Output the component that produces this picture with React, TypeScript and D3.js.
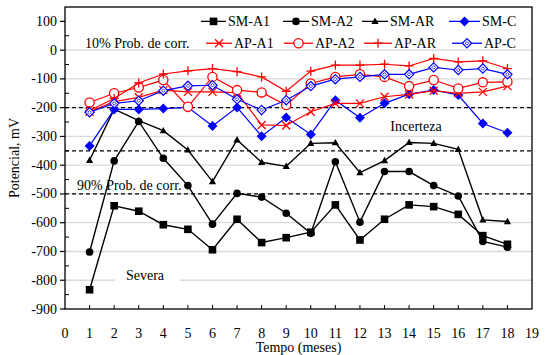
import React from "react";
import * as d3 from "d3";

const months = d3.range(1, 19);
const smA1 = [-833, -541, -560, -607, -623, -694, -588, -669, -652, -633, -538, -660, -588, -538, -544, -571, -645, -675];
const smA2 = [-702, -385, -248, -376, -471, -605, -498, -511, -567, -637, -388, -598, -422, -422, -471, -507, -665, -685];
const smAR = [-383, -205, -245, -280, -347, -457, -312, -390, -404, -324, -322, -426, -384, -321, -324, -345, -590, -596];
const smC = [-333, -206, -206, -203, -199, -264, -199, -299, -234, -293, -174, -235, -185, -153, -139, -156, -255, -287];
const apA1 = [-214, -179, -164, -139, -145, -145, -148, -260, -262, -214, -185, -185, -162, -154, -141, -150, -145, -125];
const apA2 = [-182, -150, -130, -104, -197, -93, -139, -147, -191, -116, -93, -84, -93, -125, -104, -133, -112, -110];
const apAR = [-210, -168, -114, -83, -72, -64, -75, -93, -143, -73, -52, -52, -49, -55, -29, -41, -37, -64];
const apC = [-216, -185, -176, -141, -124, -122, -171, -208, -174, -125, -101, -93, -84, -84, -60, -69, -64, -84];

const yTicks = [100, 0, -100, -200, -300, -400, -500, -600, -700, -800, -900];
const xTicks = d3.range(0, 20);
const thresholds = [-200, -350, -500];

type Shape = "square" | "circle" | "triangle" | "diamond" | "x" | "ocircle" | "plus" | "odiamond";

const seriesList: { name: string; values: number[]; color: string; shape: Shape }[] = [
  { name: "SM-A1", values: smA1, color: "#000000", shape: "square" },
  { name: "SM-A2", values: smA2, color: "#000000", shape: "circle" },
  { name: "SM-AR", values: smAR, color: "#000000", shape: "triangle" },
  { name: "SM-C", values: smC, color: "#0000ff", shape: "diamond" },
  { name: "AP-A1", values: apA1, color: "#ff0000", shape: "x" },
  { name: "AP-A2", values: apA2, color: "#ff0000", shape: "ocircle" },
  { name: "AP-AR", values: apAR, color: "#ff0000", shape: "plus" },
  { name: "AP-C", values: apC, color: "#0000ff", shape: "odiamond" },
];

const W = 545;
const H = 355;
const M = { left: 65, right: 532, top: 7, bottom: 309 };
const FONT = "'Liberation Serif', 'Times New Roman', serif";

function Marker({ shape, x, y, color }: { shape: Shape; x: number; y: number; color: string }) {
  switch (shape) {
    case "square":
      return <rect x={x - 3.8} y={y - 3.8} width={7.6} height={7.6} fill={color} />;
    case "circle":
      return <circle cx={x} cy={y} r={3.8} fill={color} />;
    case "triangle":
      return <path d={`M${x},${y - 3.8}L${x + 3.6},${y + 2.6}L${x - 3.6},${y + 2.6}Z`} fill={color} />;
    case "diamond":
      return <path d={`M${x},${y - 5}L${x + 5},${y}L${x},${y + 5}L${x - 5},${y}Z`} fill={color} />;
    case "x":
      return (
        <path d={`M${x - 4},${y - 4}L${x + 4},${y + 4}M${x - 4},${y + 4}L${x + 4},${y - 4}`} stroke={color} strokeWidth={1.3} fill="none" />
      );
    case "ocircle":
      return <circle cx={x} cy={y} r={4.6} fill="white" stroke={color} strokeWidth={1.3} />;
    case "plus":
      return <path d={`M${x - 4.5},${y}L${x + 4.5},${y}M${x},${y - 4.5}L${x},${y + 4.5}`} stroke={color} strokeWidth={1.3} fill="none" />;
    case "odiamond":
      return (
        <g>
          <path d={`M${x},${y - 4.6}L${x + 4.6},${y}L${x},${y + 4.6}L${x - 4.6},${y}Z`} fill="white" stroke={color} strokeWidth={1.2} />
          <path d={`M${x},${y - 1.8}L${x + 1.8},${y}L${x},${y + 1.8}L${x - 1.8},${y}Z`} fill="none" stroke={color} strokeWidth={0.8} />
        </g>
      );
  }
}

const legendRow1 = [
  { idx: 0, x0: 201, x1: 226 },
  { idx: 1, x0: 283, x1: 309 },
  { idx: 2, x0: 362, x1: 388 },
  { idx: 3, x0: 449, x1: 480 },
];
const legendRow2 = [
  { idx: 4, x0: 206, x1: 232 },
  { idx: 5, x0: 284, x1: 313 },
  { idx: 6, x0: 364, x1: 392 },
  { idx: 7, x0: 452, x1: 482 },
];

export default function App() {
  const x = d3.scaleLinear().domain([0, 19]).range([M.left, M.right]);
  const y = d3.scaleLinear().domain([-900, 150]).range([M.bottom, M.top]);
  const line = d3
    .line<number>()
    .x((_, i) => x(months[i]))
    .y((v) => y(v));
  const minorTicks = d3.range(-850, 150, 100);

  return (
    <svg width={W} height={H} style={{ position: "absolute", left: 0, top: 0, background: "white" }} fontFamily={FONT}>
      <rect x={0} y={0} width={W} height={H} fill="white" />
      {/* gridlines */}
      {yTicks
        .filter((t) => t !== -900)
        .map((t) => (
          <line key={"g" + t} x1={M.left} x2={M.right} y1={y(t)} y2={y(t)} stroke="#d9d9d9" strokeWidth={1.3} />
        ))}
      {/* white bg behind Severa */}
      <rect x={115} y={y(-800) - 3} width={65} height={6} fill="white" />
      {/* legend background */}
      <rect x={M.left + 1} y={M.top + 1} width={M.right - M.left - 2} height={25} fill="white" />
      {/* threshold dashed lines */}
      {thresholds.map((t) => (
        <line key={"d" + t} x1={M.left} x2={M.right} y1={y(t)} y2={y(t)} stroke="#000" strokeWidth={1.3} strokeDasharray="4,3" />
      ))}
      {/* texts in plot */}
      <text x={416} y={y(-265)} fontSize={14} textAnchor="middle" dominantBaseline="central">Incerteza</text>
      <text x={77} y={y(-470)} fontSize={14} dominantBaseline="central">90% Prob. de corr.</text>
      <text x={145} y={y(-785)} fontSize={14} textAnchor="middle" dominantBaseline="central">Severa</text>
      <text x={85} y={y(24)} fontSize={14} dominantBaseline="central">10% Prob. de corr.</text>
      {/* series */}
      {seriesList.map((s) => (
        <g key={s.name}>
          <path d={line(s.values) || ""} fill="none" stroke={s.color} strokeWidth={s.color === "#000000" ? 1.4 : 1.2} />
          {s.values.map((v, i) => (
            <Marker key={i} shape={s.shape} x={x(months[i])} y={y(v)} color={s.color} />
          ))}
        </g>
      ))}
      {/* legend */}
      {[legendRow1, legendRow2].map((row, r) =>
        row.map((it) => {
          const s = seriesList[it.idx];
          const ly = r === 0 ? y(100) : y(24);
          const mx = (it.x0 + it.x1) / 2;
          return (
            <g key={s.name}>
              <line x1={it.x0} x2={it.x1} y1={ly} y2={ly} stroke={s.color} strokeWidth={1.3} />
              <Marker shape={s.shape} x={mx} y={ly} color={s.color} />
              <text x={it.x1 + 2} y={ly} fontSize={14} dominantBaseline="central">{s.name}</text>
            </g>
          );
        })
      )}
      {/* frame */}
      <rect x={M.left} y={M.top} width={M.right - M.left} height={M.bottom - M.top} fill="none" stroke="#000" strokeWidth={1.3} />
      {/* y ticks */}
      {yTicks.map((t) => (
        <g key={"yt" + t}>
          <line x1={M.left - 5} x2={M.left} y1={y(t)} y2={y(t)} stroke="#000" strokeWidth={1.2} />
          <text x={M.left - 8} y={y(t)} fontSize={14} textAnchor="end" dominantBaseline="central">{t}</text>
        </g>
      ))}
      {minorTicks.map((t) => (
        <line key={"ym" + t} x1={M.left} x2={M.left + 4} y1={y(t)} y2={y(t)} stroke="#000" strokeWidth={1} />
      ))}
      {/* x ticks */}
      {xTicks.map((t) => (
        <g key={"xt" + t}>
          {t > 0 && t < 19 && <line x1={x(t)} x2={x(t)} y1={M.bottom} y2={M.bottom - 4} stroke="#000" strokeWidth={1} />}
          <text x={x(t)} y={333} fontSize={14} textAnchor="middle" dominantBaseline="central">{t}</text>
        </g>
      ))}
      <text x={(M.left + M.right) / 2} y={347} fontSize={14} textAnchor="middle" dominantBaseline="central">Tempo (meses)</text>
      <text transform={`translate(14,${(M.top + M.bottom) / 2}) rotate(-90)`} fontSize={14} textAnchor="middle" dominantBaseline="central">Potencial, mV</text>
    </svg>
  );
}
